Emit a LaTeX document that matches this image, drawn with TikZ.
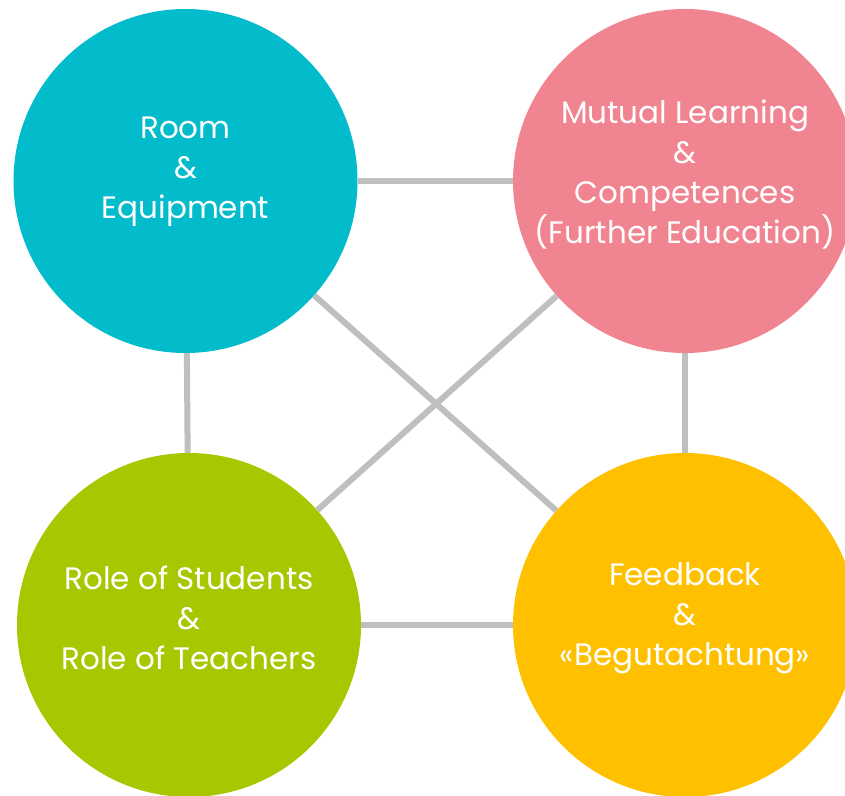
\documentclass[tikz,border=0pt]{standalone}
\usepackage{fontspec}
\setmainfont{Poppins}
\usepackage{tikz}
\usetikzlibrary{calc}

\definecolor{roomcol}{HTML}{02BCCC}
\definecolor{mutualcol}{HTML}{F08491}
\definecolor{rolecol}{HTML}{A9C700}
\definecolor{feedcol}{HTML}{FFC000}
\definecolor{linkgray}{HTML}{BFBFBF}

\begin{document}
\begin{tikzpicture}[x=1pt, y=-1pt,
    topic/.style={circle, minimum size=344pt, inner sep=0pt},
    caption/.style={text=white, align=center, inner sep=0pt, font=\fontsize{31}{40}\selectfont},
    link/.style={draw=linkgray, line width=6pt}]

\useasboundingbox (0,0) rectangle (845,795);

%% circles
\node[topic, fill=roomcol] (room) at (185.5, 181) {};
\node[topic, fill=mutualcol] (mutual) at (685, 181) {};
\node[topic, fill=rolecol] (role) at (189, 625) {};
\node[topic, fill=feedcol] (feed) at (685, 625) {};

%% texts
\node[caption] (roomtext) at ($(room) + (0, -9)$) {Room\\\&\\Equipment};
\node[caption] (mutualtext) at ($(mutual) + (0, -6)$) {Mutual Learning\\\&\\Competences\\(Further Education)};
\node[caption] (roletext) at ($(role) + (0, -7)$) {Role of Students\\\&\\Role of Teachers};
\node[caption] (feedtext) at ($(feed) + (0, -7)$) {Feedback\\\&\\«Begutachtung»};

%% links
\draw[link] (room) -- (mutual);
\draw[link] (room) -- (role);
\draw[link] (mutual) -- (feed);
\draw[link] (role) -- (feed);
\draw[link] (room) -- (feed);
\draw[link] (mutual) -- (role);

\end{tikzpicture}
\end{document}
